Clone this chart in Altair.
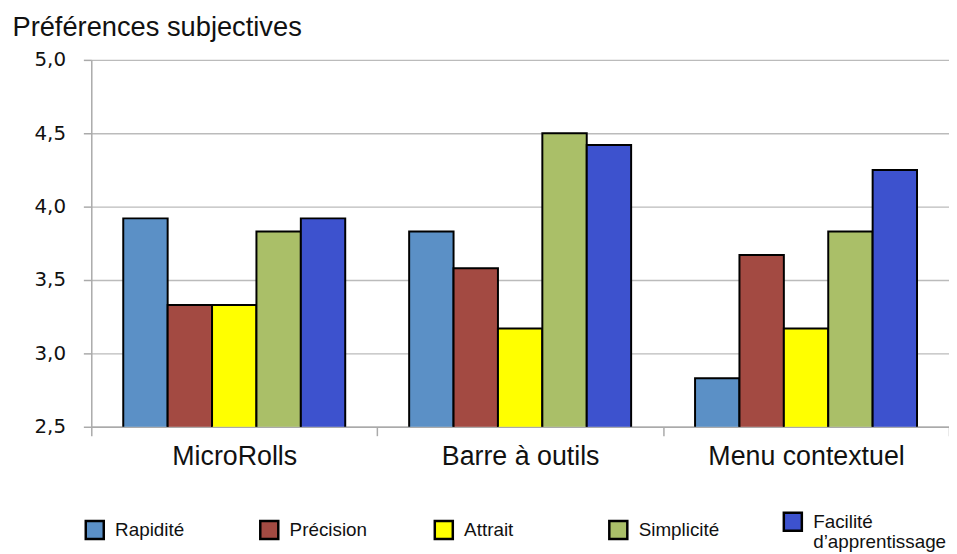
import altair as alt
import pandas as pd

categories = ["MicroRolls", "Barre à outils", "Menu contextuel"]
series = ["Rapidité", "Précision", "Attrait", "Simplicité", "Facilité d’apprentissage"]
colors = ["#5B90C6", "#A34A42", "#FFFF00", "#AABF68", "#3D52CE"]

rapidite = [3.92, 3.83, 2.83]
precision = [3.33, 3.58, 3.67]
attrait = [3.33, 3.17, 3.17]
simplicite = [3.83, 4.50, 3.83]
facilite = [3.92, 4.42, 4.25]

values = [rapidite, precision, attrait, simplicite, facilite]
rows = []
for s, vals in zip(series, values):
    for c, v in zip(categories, vals):
        rows.append({"cat": c, "serie": s, "val": v})
df = pd.DataFrame(rows)

label_expr = "replace(format(datum.value, '.1f'), '.', ',')"
leg_expr = "datum.label == 'Facilité d’apprentissage' ? ['Facilité', 'd’apprentissage'] : datum.label"

chart = alt.Chart(df).mark_bar(stroke="black", strokeWidth=2, clip=True).encode(
    x=alt.X("cat:N", sort=categories, title=None,
            scale=alt.Scale(paddingInner=0, paddingOuter=0),
            axis=alt.Axis(labelAngle=0, labelFont="Liberation Sans", labelFontSize=27,
                          labelLimit=400, labelColor="#111", labelPadding=8,
                          tickBand="extent",
                          tickSize=9, tickColor="#AAAAAA", tickWidth=1.5,
                          domainColor="#AAAAAA", domainWidth=1.5)),
    xOffset=alt.XOffset("serie:N", sort=series,
                        scale=alt.Scale(paddingInner=0, paddingOuter=0.72)),
    y=alt.Y("val:Q", scale=alt.Scale(domain=[2.5, 5.0], nice=False, zero=False),
            axis=alt.Axis(values=[2.5, 3.0, 3.5, 4.0, 4.5, 5.0], labelExpr=label_expr,
                          labelFont="DejaVu Sans", labelFontSize=20, labelColor="#111",
                          labelPadding=18, tickSize=8, tickColor="#AAAAAA", tickWidth=1.5,
                          domainColor="#AAAAAA", domainWidth=1.5,
                          gridColor="#BBBBBB", gridWidth=1.5,
                          title="Préférences subjectives", titleAngle=0, titleAlign="left",
                          titleBaseline="alphabetic", titleX=-80, titleY=-25,
                          titleFont="Liberation Sans", titleFontSize=27.5,
                          titleFontWeight="normal", titleColor="#111")),
    color=alt.Color("serie:N", sort=series,
                    scale=alt.Scale(domain=series, range=colors),
                    legend=alt.Legend(title=None, orient="none", direction="horizontal",
                                      columns=5, gridAlign="all", legendX=-7, legendY=455,
                                      symbolType="square", symbolSize=330,
                                      symbolStrokeColor="black", symbolStrokeWidth=2.5,
                                      labelFont="Liberation Sans", labelFontSize=19,
                                      labelColor="#111", labelExpr=leg_expr,
                                      columnPadding=6, labelOffset=10, padding=0)),
).properties(
    width=865, height=370,
    padding={"left": 84, "top": 50, "right": 0, "bottom": 126},
    autosize=alt.AutoSizeParams(type="none"),
).configure_view(stroke=None)

chart.save("out.html", embed_options={"renderer": "svg", "actions": False})
